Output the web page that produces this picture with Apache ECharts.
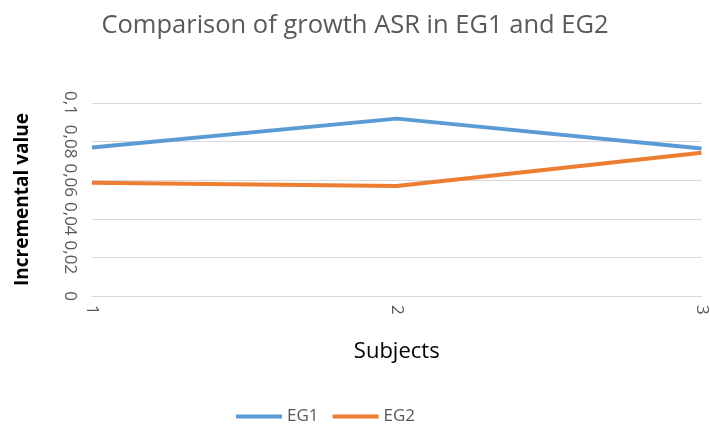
<!DOCTYPE html>
<html><head><meta charset="utf-8">
<script src="https://cdn.jsdelivr.net/npm/echarts@6/dist/echarts.min.js"></script>
<style>html,body{margin:0;padding:0;background:#fff}#c{width:710px;height:425px}</style>
</head><body><div id="c"></div>
<script>
const categories = ['1', '2', '3'];
const eg1 = [0.077, 0.0919, 0.0764];
const eg2 = [0.0587, 0.057, 0.0742];
const yTicks = { min: 0, max: 0.1, interval: 0.02 };

const chart = echarts.init(document.getElementById('c'));
chart.setOption({
  animation: false,
  title: {
    text: 'Comparison of growth ASR in EG1 and EG2',
    left: 'center', top: 8,
    textStyle: { fontFamily: 'Open Sans', fontSize: 25.5, fontWeight: 'normal', color: '#595959' }
  },
  legend: {
    bottom: -5, left: 231,
    itemWidth: 46, itemHeight: 4, itemGap: 14,
    icon: 'rect',
    textStyle: { fontFamily: 'Open Sans', fontSize: 17, color: '#595959' },
    data: ['EG1', 'EG2']
  },
  grid: { left: 92, right: 2, top: 103, bottom: 129, containLabel: false },
  xAxis: {
    type: 'category', data: categories, boundaryGap: false,
    name: 'Subjects', nameLocation: 'middle', nameGap: 45,
    nameTextStyle: { fontFamily: 'Open Sans', fontSize: 22, color: '#000' },
    axisLine: { show: true, lineStyle: { color: '#d9d9d9' } },
    axisTick: { show: false },
    axisLabel: { rotate: -90, fontFamily: 'Open Sans', fontSize: 17, color: '#595959', margin: 9 },
    splitLine: { show: false }
  },
  yAxis: {
    type: 'value', min: yTicks.min, max: yTicks.max, interval: yTicks.interval,
    name: 'Incremental value', nameLocation: 'middle', nameGap: 60,
    nameTextStyle: { fontFamily: 'Open Sans', fontSize: 19, fontWeight: 'bold', color: '#000' },
    axisLine: { show: false }, axisTick: { show: false },
    axisLabel: {
      rotate: -90, fontFamily: 'Open Sans', fontSize: 17, color: '#595959', margin: 14,
      formatter: v => v === 0 ? '0' : String(+v.toFixed(2)).replace('.', ',')
    },
    splitLine: { lineStyle: { color: '#d9d9d9', width: 1 } }
  },
  series: [
    { name: 'EG1', type: 'line', data: eg1, symbol: 'none', lineStyle: { width: 4, color: '#5B9BD5' }, itemStyle: { color: '#5B9BD5' } },
    { name: 'EG2', type: 'line', data: eg2, symbol: 'none', lineStyle: { width: 4, color: '#ED7D31' }, itemStyle: { color: '#ED7D31' } }
  ]
});
</script></body></html>
